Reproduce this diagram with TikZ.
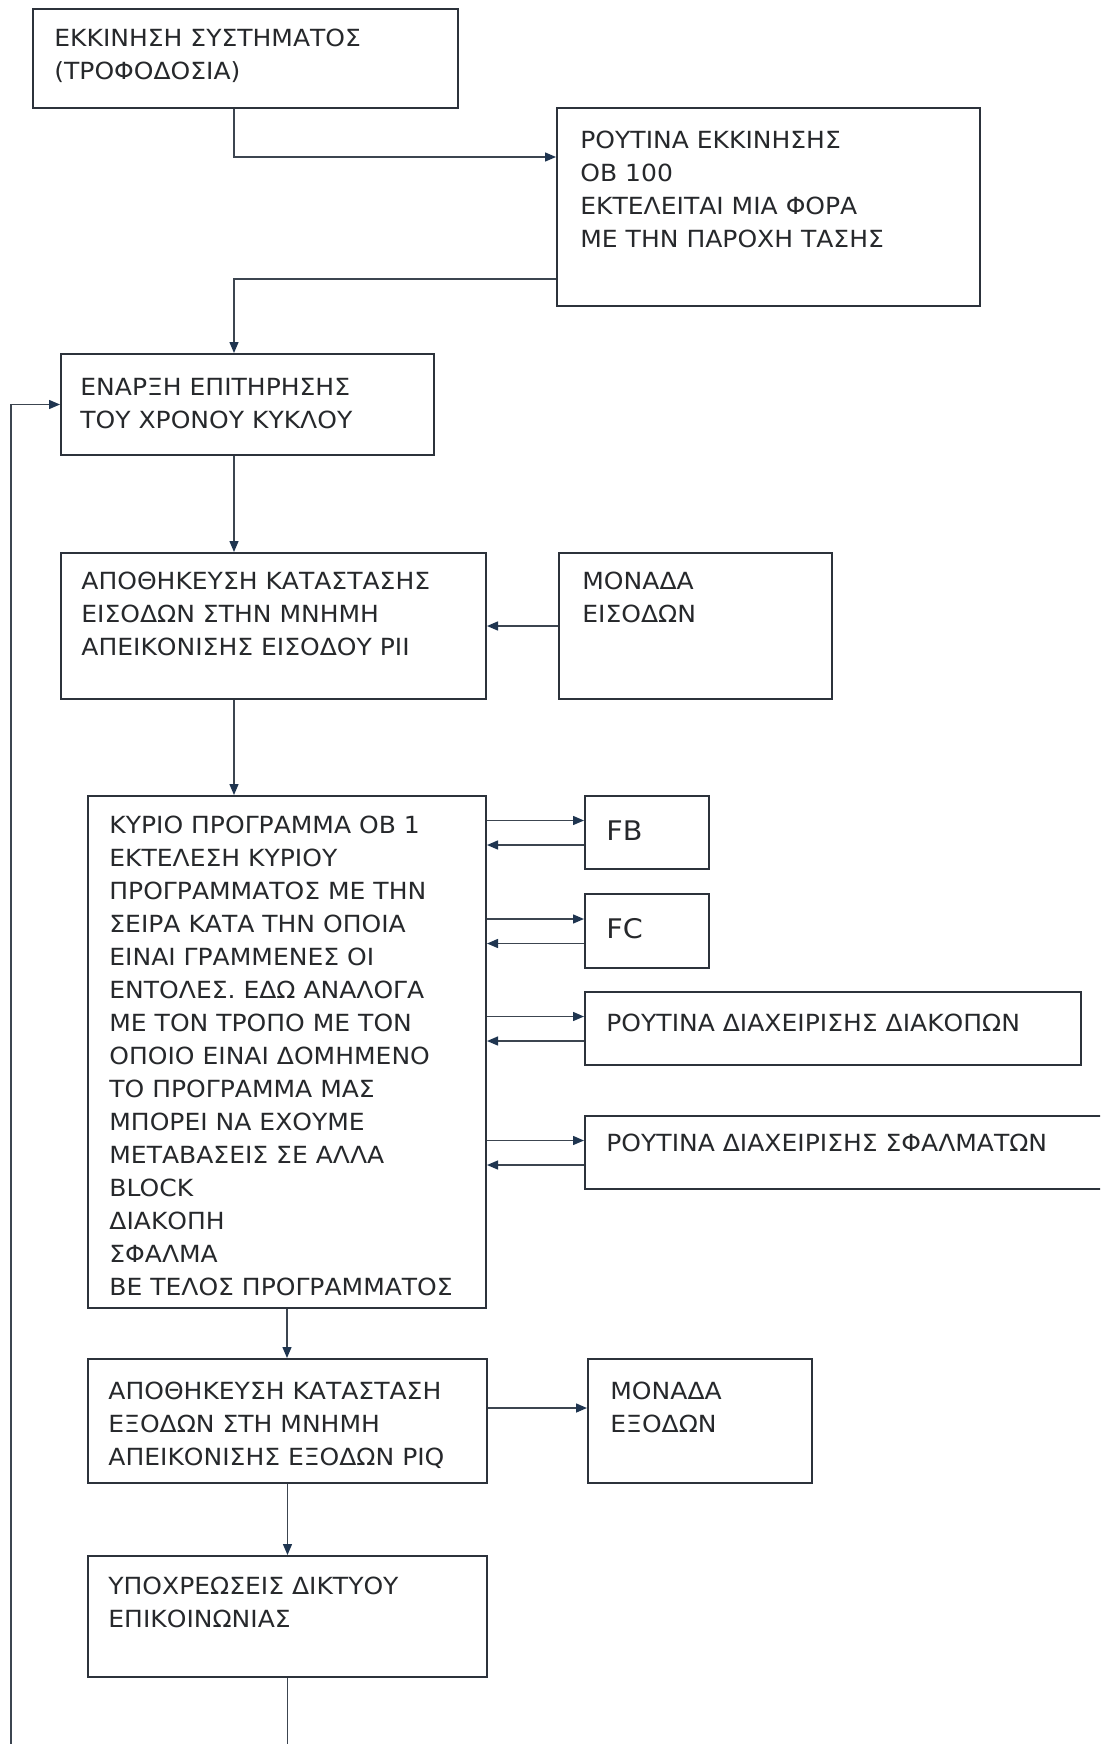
\documentclass[tikz,border=0pt]{standalone}
\usepackage{fontspec}
\setmainfont{DejaVu Sans}[FakeStretch=1.06]
\usetikzlibrary{arrows.meta, positioning, calc, fit}
\definecolor{ink}{HTML}{26282B}
\definecolor{frame}{HTML}{2C323B}
\definecolor{wire}{HTML}{3C4550}
\definecolor{tip}{HTML}{1F3550}
\tikzset{
  %
  blk/.style={draw=frame, line width=1pt, inner sep=0pt},
  txt/.style={anchor=north west, inner sep=0pt, align=left, text=ink,
              font=\fontsize{11.8}{16.5}\selectfont},
  bigtxt/.style={txt, font=\fontsize{13.5}{16.5}\selectfont},
  %
  flow/.style={draw=wire, line width=0.7pt,
               -{Triangle[length=5.5pt, width=4.5pt, color=tip]}},
}
\begin{document}
\begin{tikzpicture}[x=0.5pt, y=-0.5pt]

  \useasboundingbox (0,0) rectangle (1100,1744);
  \clip (0,0) rectangle (1100,1744);

  % trunk lines and return path
  \coordinate (trunk) at (234,0);
  \coordinate (back)  at (11,1800);

  % start-up part
  \node[blk, fit={(33,9) (458,108)}] (start) {};
  \node[txt] (start-t) at ($(start.north west)+(22,21)$)
    {ΕΚΚΙΝΗΣΗ ΣΥΣΤΗΜΑΤΟΣ\\(ΤΡΟΦΟΔΟΣΙΑ)};

  \node[blk, fit={(557,108) (980,306)}] (ob100) {};
  \node[txt] (ob100-t) at ($(ob100.north west)+(24,24)$)
    {ΡΟΥΤΙΝΑ ΕΚΚΙΝΗΣΗΣ\\OB 100\\ΕΚΤΕΛΕΙΤΑΙ ΜΙΑ ΦΟΡΑ\\ΜΕ ΤΗΝ ΠΑΡΟΧΗ ΤΑΣΗΣ};

  % scan cycle
  \node[blk, fit={(61,354) (434,455)}] (cycle) {};
  \node[txt] (cycle-t) at ($(cycle.north west)+(20,25)$)
    {ΕΝΑΡΞΗ ΕΠΙΤΗΡΗΣΗΣ\\ΤΟΥ ΧΡΟΝΟΥ ΚΥΚΛΟΥ};

  \node[blk, fit={(61,553) (486,699)}] (readin) {};
  \node[txt] (readin-t) at ($(readin.north west)+(21,20)$)
    {ΑΠΟΘΗΚΕΥΣΗ ΚΑΤΑΣΤΑΣΗΣ\\ΕΙΣΟΔΩΝ ΣΤΗΝ ΜΝΗΜΗ\\ΑΠΕΙΚΟΝΙΣΗΣ ΕΙΣΟΔΟΥ PII};

  \node[blk, fit={(559,553) (832,699)}] (inmod) {};
  \node[txt] (inmod-t) at ($(inmod.north west)+(24,20)$)
    {ΜΟΝΑΔΑ\\ΕΙΣΟΔΩΝ};

  \node[blk, fit={(88,796) (486,1308)}] (ob1) {};
  \node[txt] (ob1-t) at ($(ob1.north west)+(22,21)$)
    {ΚΥΡΙΟ ΠΡΟΓΡΑΜΜΑ OB 1\\ΕΚΤΕΛΕΣΗ ΚΥΡΙΟΥ\\ΠΡΟΓΡΑΜΜΑΤΟΣ ΜΕ ΤΗΝ\\
     ΣΕΙΡΑ ΚΑΤΑ ΤΗΝ ΟΠΟΙΑ\\ΕΙΝΑΙ ΓΡΑΜΜΕΝΕΣ ΟΙ\\ΕΝΤΟΛΕΣ. ΕΔΩ ΑΝΑΛΟΓΑ\\
     ΜΕ ΤΟΝ ΤΡΟΠΟ ΜΕ ΤΟΝ\\ΟΠΟΙΟ ΕΙΝΑΙ ΔΟΜΗΜΕΝΟ\\ΤΟ ΠΡΟΓΡΑΜΜΑ ΜΑΣ\\
     ΜΠΟΡΕΙ ΝΑ ΕΧΟΥΜΕ\\ΜΕΤΑΒΑΣΕΙΣ ΣΕ ΑΛΛΑ\\BLOCK\\ΔΙΑΚΟΠΗ\\ΣΦΑΛΜΑ\\
     BE ΤΕΛΟΣ ΠΡΟΓΡΑΜΜΑΤΟΣ};

  % called blocks
  \node[blk, fit={(585,796) (709,869)}] (fb) {};
  \node[bigtxt] (fb-t) at ($(fb.north west)+(22,25)$) {FB};

  \node[blk, fit={(585,894) (709,968)}] (fc) {};
  \node[bigtxt] (fc-t) at ($(fc.north west)+(22,25)$) {FC};

  \node[blk, fit={(585,992) (1081,1065)}] (intr) {};
  \node[txt] (intr-t) at ($(intr.north west)+(22,23)$)
    {ΡΟΥΤΙΝΑ ΔΙΑΧΕΙΡΙΣΗΣ ΔΙΑΚΟΠΩΝ};

  \node[blk, fit={(585,1116) (1140,1189)}] (err) {};
  \node[txt] (err-t) at ($(err.north west)+(22,19)$)
    {ΡΟΥΤΙΝΑ ΔΙΑΧΕΙΡΙΣΗΣ ΣΦΑΛΜΑΤΩΝ};

  % outputs and network
  \node[blk, fit={(88,1359) (487,1483)}] (writeout) {};
  \node[txt] (writeout-t) at ($(writeout.north west)+(21,24)$)
    {ΑΠΟΘΗΚΕΥΣΗ ΚΑΤΑΣΤΑΣΗ\\ΕΞΟΔΩΝ ΣΤΗ ΜΝΗΜΗ\\ΑΠΕΙΚΟΝΙΣΗΣ ΕΞΟΔΩΝ PIQ};

  \node[blk, fit={(588,1359) (812,1483)}] (outmod) {};
  \node[txt] (outmod-t) at ($(outmod.north west)+(23,24)$)
    {ΜΟΝΑΔΑ\\ΕΞΟΔΩΝ};

  \node[blk, fit={(88,1556) (487,1677)}] (net) {};
  \node[txt] (net-t) at ($(net.north west)+(21,22)$)
    {ΥΠΟΧΡΕΩΣΕΙΣ ΔΙΚΤΥΟΥ\\ΕΠΙΚΟΙΝΩΝΙΑΣ};

  % connectors
  \draw[flow] (start.south -| trunk) |- ($(ob100.north west)+(0,50)$);
  \draw[flow] ($(ob100.north west)+(0,172)$) -| (cycle.north -| trunk);
  \draw[flow] (cycle.south -| trunk) -- (readin.north -| trunk);
  \draw[flow] (inmod.west) -- (inmod.west -| readin.east);
  \draw[flow] (readin.south -| trunk) -- (ob1.north -| trunk);

  \foreach \blkname in {fb, fc, intr, err} {
    \draw[flow] ([yshift=6pt]\blkname.west -| ob1.east)
      -- ([yshift=6pt]\blkname.west);
    \draw[flow] ([yshift=-6.25pt]\blkname.west)
      -- ([yshift=-6.25pt]\blkname.west -| ob1.east);
  }

  \draw[flow] (ob1.south) -- (ob1.south |- writeout.north);
  \draw[flow] ([yshift=6.5pt]writeout.east)
    -- ([yshift=6.5pt]writeout.east -| outmod.west);
  \draw[flow] (writeout.south) -- (writeout.south |- net.north);

  % back to the start of the cycle
  \draw[flow] (net.south) |- (back) |- (cycle.west);

\end{tikzpicture}
\end{document}
